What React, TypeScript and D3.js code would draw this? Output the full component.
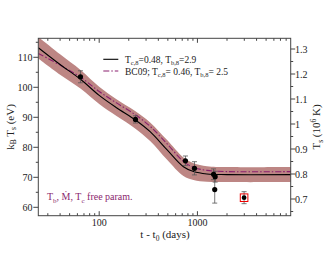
import React from 'react';
import * as d3 from 'd3';

// model curves (days, eV)
const curveDays = [24, 40, 65, 100, 150, 232, 330, 489, 720, 912, 1250, 2000, 9000];
const fitKT = [113.2, 107.6, 102.6, 97.3, 93.2, 89.2, 85.2, 79.2, 73.5, 71.9, 71.1, 70.9, 70.9];
const bandHalf = [3.6, 3.4, 3.1, 2.9, 2.8, 2.9, 3.1, 3.3, 3.1, 2.8, 2.6, 2.5, 2.5];
const bc09KT = [111.3, 107.4, 103.3, 98.6, 94.8, 90.9, 87.0, 81.2, 75.3, 73.3, 72.3, 71.9, 71.9];

// observations
const obsDays = [64.5, 234, 755, 933, 1459, 1514, 1500];
const obsKT = [103.5, 89.3, 75.5, 73.0, 71.0, 70.2, 65.9];
const obsErr = [2.0, 1.2, 1.6, 2.2, 1.8, 1.8, 4.5];
const redDays = [2985];
const redKT = [63.2];
const redErr = [2.0];

const leftTicks = [60, 70, 80, 90, 100, 110];
const rightTicks = [0.7, 0.8, 0.9, 1, 1.1, 1.2, 1.3];
const xTicks = [100, 1000];

const W = 330, H = 255;
const L = 38.3, R = 290.7, T = 38.3, B = 215.7;
const PURPLE = '#8a1f6e';
const AXIS = '#444';
const FONT = '"Liberation Serif", "DejaVu Serif", serif';

export default function App() {
  const x = d3.scaleLog().domain([24, 8900]).range([L, R]);
  const y = d3.scaleLinear().domain([57.2, 116.33]).range([B, T]);
  const yR = d3.scaleLinear().domain([0.6332, 1.3428]).range([B, T]);

  const idx = d3.range(curveDays.length);
  const smooth = d3.curveCatmullRom.alpha(0.5);
  const line = (vals: number[]) =>
    d3.line<number>().x(i => x(curveDays[i])).y(i => y(vals[i])).curve(smooth)(idx) || '';
  const band = d3.area<number>()
    .x(i => x(curveDays[i]))
    .y0(i => y(fitKT[i] - bandHalf[i]))
    .y1(i => y(fitKT[i] + bandHalf[i]))
    .curve(smooth)(idx) || '';

  const minorX: number[] = [];
  [10, 100, 1000].forEach(d => { for (let k = 2; k <= 9; k++) { const v = d * k; if (v > 24 && v < 8900 && v !== 100 && v !== 1000) minorX.push(v); } });
  const minorL = d3.range(60, 116, 5).filter(v => v % 10 !== 0);
  const minorR = [0.65, 0.75, 0.85, 0.95, 1.05, 1.15, 1.25];

  const errBar = (d: number, v: number, e: number, key: string, color: string) => {
    const cx = x(d);
    return (
      <g key={key} stroke={color} strokeWidth={0.8}>
        <line x1={cx} x2={cx} y1={y(v - e)} y2={y(v + e)} />
        <line x1={cx - 2.5} x2={cx + 2.5} y1={y(v - e)} y2={y(v - e)} />
        <line x1={cx - 2.5} x2={cx + 2.5} y1={y(v + e)} y2={y(v + e)} />
      </g>
    );
  };

  return (
    <svg width={W} height={H} style={{ position: 'absolute', left: 0, top: 0, background: '#fff' }} fontFamily={FONT}>
      <defs>
        <clipPath id="plot"><rect x={L} y={T} width={R - L} height={B - T} /></clipPath>
      </defs>
      <g clipPath="url(#plot)">
        <path d={band} fill="#bd8684" />
        <path d={line(bc09KT)} fill="none" stroke={PURPLE} strokeWidth={1.1} strokeDasharray="6,2,1.5,2" />
        <path d={line(fitKT)} fill="none" stroke="#000" strokeWidth={1.1} />
      </g>

      {obsDays.map((d, i) => errBar(d, obsKT[i], obsErr[i], 'e' + i, '#555'))}
      {obsDays.map((d, i) => <circle key={'p' + i} cx={x(d)} cy={y(obsKT[i])} r={2.6} fill="#000" />)}
      {redDays.map((d, i) => (
        <g key={'r' + i}>
          {errBar(d, redKT[i], redErr[i], 're' + i, '#555')}
          <rect x={x(d) - 3.8} y={y(redKT[i]) - 3.8} width={7.6} height={7.6} fill="none" stroke="#e00" strokeWidth={1} />
          <circle cx={x(d)} cy={y(redKT[i])} r={2.4} fill="#000" />
        </g>
      ))}

      {/* frame */}
      <rect x={L} y={T} width={R - L} height={B - T} fill="none" stroke={AXIS} strokeWidth={1} />

      {/* x ticks, bottom and top, inward */}
      {xTicks.map(v => (
        <g key={'xt' + v} stroke={AXIS}>
          <line x1={x(v)} x2={x(v)} y1={B} y2={B - 4.5} />
          <line x1={x(v)} x2={x(v)} y1={T} y2={T + 4.5} />
        </g>
      ))}
      {minorX.map(v => (
        <g key={'xm' + v} stroke={AXIS}>
          <line x1={x(v)} x2={x(v)} y1={B} y2={B - 2.5} />
          <line x1={x(v)} x2={x(v)} y1={T} y2={T + 2.5} />
        </g>
      ))}
      {xTicks.map(v => (
        <text key={'xl' + v} x={x(v)} y={226} fontSize={10} textAnchor="middle" fill="#222">{v}</text>
      ))}

      {/* left axis */}
      {leftTicks.map(v => <line key={'lt' + v} x1={L - 5} x2={L} y1={y(v)} y2={y(v)} stroke={AXIS} />)}
      {minorL.map(v => <line key={'lm' + v} x1={L - 2.5} x2={L} y1={y(v)} y2={y(v)} stroke={AXIS} />)}
      {leftTicks.map(v => (
        <text key={'ll' + v} x={32.5} y={y(v) + 3.5} fontSize={10} textAnchor="end" fill="#222">{v}</text>
      ))}

      {/* right axis */}
      {rightTicks.map(v => <line key={'rt' + v} x1={R} x2={R + 4.5} y1={yR(v)} y2={yR(v)} stroke={AXIS} />)}
      {minorR.map(v => <line key={'rm' + v} x1={R} x2={R + 2.5} y1={yR(v)} y2={yR(v)} stroke={AXIS} />)}
      {rightTicks.map(v => (
        <text key={'rl' + v} x={295} y={yR(v) + 3.5} fontSize={10} fill="#222">{v}</text>
      ))}

      {/* axis titles */}
      <text transform="translate(13.5,127) rotate(-90)" fontSize={11} textAnchor="middle" fill="#222">
        k<tspan fontSize={7.5} dy={2.5}>B</tspan><tspan dy={-2.5}> T</tspan><tspan fontSize={7.5} dy={2.5}>s</tspan><tspan dy={-2.5}> (eV)</tspan>
      </text>
      <text transform="translate(320,127) rotate(-90)" fontSize={11} textAnchor="middle" fill="#222">
        T<tspan fontSize={7.5} dy={2.5}>s</tspan><tspan dy={-2.5}> (10</tspan><tspan fontSize={7.5} dy={-4}>6</tspan><tspan dy={4}> K)</tspan>
      </text>
      <text x={165} y={238} fontSize={11} textAnchor="middle" fill="#222">
        t - t<tspan fontSize={7.5} dy={2.5}>0</tspan><tspan dy={-2.5}> (days)</tspan>
      </text>

      {/* legend */}
      <line x1={103.3} x2={118.3} y1={59.3} y2={59.3} stroke="#000" strokeWidth={1.1} />
      <text x={125} y={62.5} fontSize={9.5} fill="#222">
        T<tspan fontSize={6.5} dy={2.5}>c,8</tspan><tspan dy={-2.5}>=0.48, T</tspan><tspan fontSize={6.5} dy={2.5}>b,8</tspan><tspan dy={-2.5}>=2.9</tspan>
      </text>
      <line x1={103.3} x2={118.3} y1={71} y2={71} stroke={PURPLE} strokeWidth={1.1} strokeDasharray="6,2,1.5,2" />
      <text x={125} y={74.5} fontSize={9.5} fill="#222">
        BC09; T<tspan fontSize={6.5} dy={2.5}>c,8</tspan><tspan dy={-2.5}>= 0.46, T</tspan><tspan fontSize={6.5} dy={2.5}>b,8</tspan><tspan dy={-2.5}>= 2.5</tspan>
      </text>

      {/* annotation */}
      <text x={47} y={200} fontSize={10} fill={PURPLE}>
        T<tspan fontSize={7} dy={2.5}>b</tspan><tspan dy={-2.5}>, </tspan>
        <tspan>M&#775;</tspan><tspan>, T</tspan><tspan fontSize={7} dy={2.5}>c</tspan><tspan dy={-2.5}> free param.</tspan>
      </text>
    </svg>
  );
}
